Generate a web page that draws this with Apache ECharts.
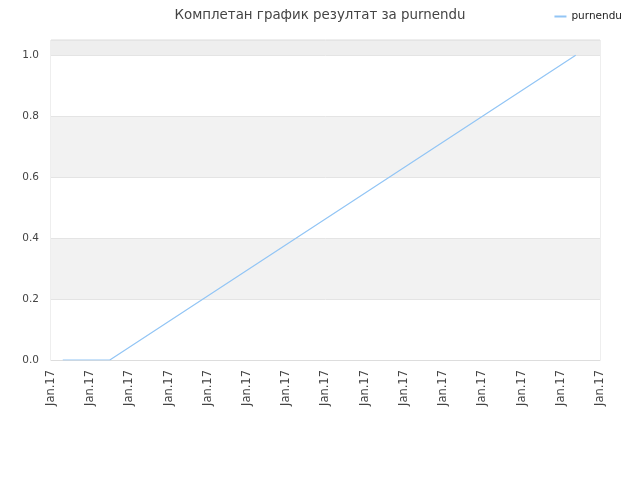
<!DOCTYPE html>
<html><head><meta charset="utf-8">
<script src="https://cdn.jsdelivr.net/npm/echarts@6/dist/echarts.min.js"></script>
<style>html,body{margin:0;padding:0;background:#fff}#c{width:640px;height:480px}</style>
</head><body><div id="c"></div>
<script>
const titleText = 'Комплетан график резултат за purnendu';
const seriesName = 'purnendu';
const xTickLabels = ['Jan.17','Jan.17','Jan.17','Jan.17','Jan.17','Jan.17','Jan.17','Jan.17','Jan.17','Jan.17','Jan.17','Jan.17','Jan.17','Jan.17','Jan.17'];
const xValues = [0.3, 1.5, 13.38];
const yValues = [0, 0, 1.0];

const chart = echarts.init(document.getElementById('c'), null, {renderer:'canvas'});
chart.setOption({
  animation:false,
  backgroundColor:'#fff',
  title:{text:titleText,left:'center',top:4,textStyle:{fontFamily:'DejaVu Sans',fontSize:13.4,fontWeight:'normal',color:'#444'}},
  legend:{right:13,top:6,itemWidth:12,itemHeight:2,icon:'rect',itemGap:5,
    textStyle:{fontFamily:'DejaVu Sans',fontSize:10.5,color:'#222'},data:[seriesName]},
  grid:{left:51,right:40,top:40,bottom:120,show:true,borderColor:'#dddddd',borderWidth:1,backgroundColor:'transparent'},
  xAxis:{type:'value',min:0,max:xTickLabels.length-1,interval:1,
    axisLine:{show:true,lineStyle:{color:'#dddddd'}},axisTick:{show:false},splitLine:{show:false},
    axisLabel:{rotate:90,fontFamily:'DejaVu Sans',fontSize:11.5,color:'#444',margin:10,
      formatter:function(v){return xTickLabels[Math.round(v)]||'';}}},
  yAxis:{type:'value',min:0,max:1.05,interval:0.2,
    axisLine:{show:false},axisTick:{show:false},
    axisLabel:{fontFamily:'DejaVu Sans',fontSize:10.5,color:'#444',margin:12,showMaxLabel:false,
      formatter:function(v){return v.toFixed(1);}},
    splitLine:{show:true,lineStyle:{color:'#e4e4e4'}},
    splitArea:{show:true,areaStyle:{color:['#ffffff','#f2f2f2','#ffffff','#f2f2f2','#ffffff','#eeeeee']}}},
  series:[{name:seriesName,type:'line',data:xValues.map((x,i)=>[x,yValues[i]]),
    showSymbol:false,symbol:'none',lineStyle:{color:'#92c5f5',width:1.2},itemStyle:{color:'#92c5f5'}}]
});
</script></body></html>
